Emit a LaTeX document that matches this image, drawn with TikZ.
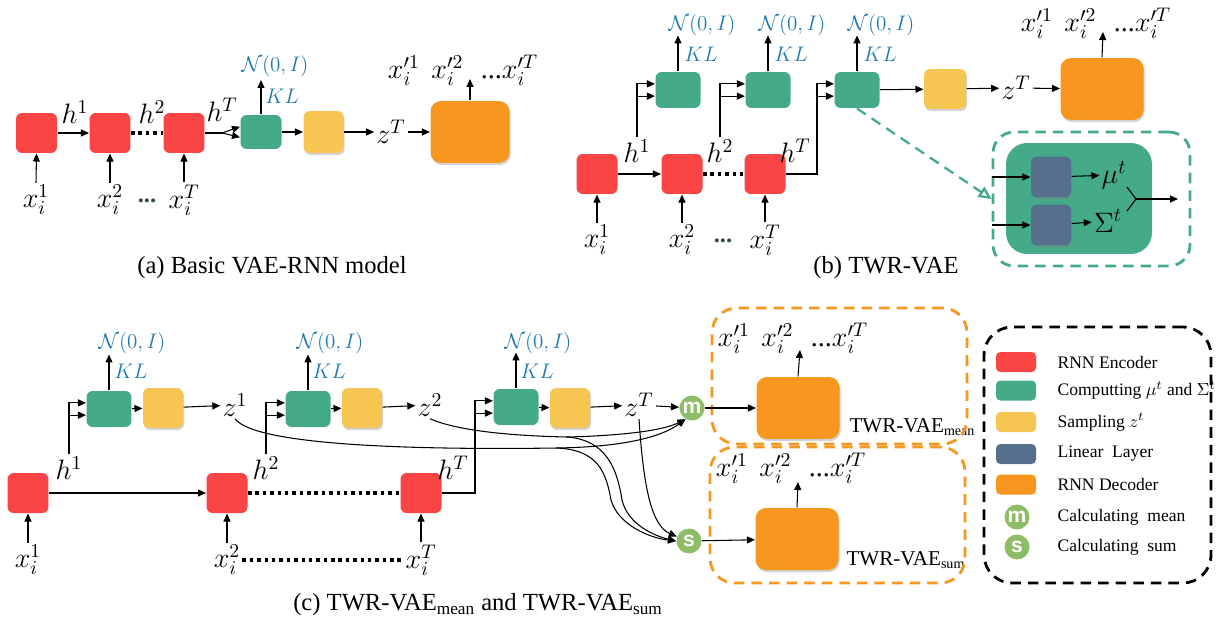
\RequirePackage{fix-cm}
\documentclass[tikz,border=0pt]{standalone}
\usepackage{fontspec}
\setmainfont{Liberation Serif}
\setsansfont{Liberation Sans}
\usetikzlibrary{arrows.meta, positioning, shadows, calc}
\definecolor{cred}{HTML}{FB4444}
\definecolor{cgreen}{HTML}{45AA8A}
\definecolor{cyellow}{HTML}{F7C552}
\definecolor{corange}{HTML}{F7971F}
\definecolor{cslate}{HTML}{556F8D}
\definecolor{ccirc}{HTML}{8DBE67}
\definecolor{cblue}{HTML}{1F78B0}
\definecolor{cdots}{HTML}{2F4A45}
\newcommand{\outseq}{$x_i^{\prime 1}\ \,x_i^{\prime 2}\hspace{10pt}\mbox{...}x_i^{\prime T}$}
\tikzset{
  every picture/.style={line width=0.6pt},
  blk/.style={draw=none, fill=#1, rounded corners=3.5pt, minimum width=0.82cm, minimum height=0.8cm, inner sep=0pt},
  enc/.style={blk=cred},
  musig/.style={blk=cgreen, minimum width=0.9cm, minimum height=0.72cm},
  samp/.style={blk=cyellow, minimum width=0.8cm, minimum height=0.8cm, drop shadow={opacity=0.35, shadow xshift=0.6pt, shadow yshift=-1.2pt}},
  dec/.style={blk=corange, rounded corners=6pt, minimum width=1.66cm, minimum height=1.24cm, drop shadow={opacity=0.35, shadow xshift=0.6pt, shadow yshift=-1.2pt}},
  lin/.style={blk=cslate, minimum width=0.8cm, minimum height=0.82cm, drop shadow={opacity=0.35, shadow xshift=0.6pt, shadow yshift=-1.2pt}},
  agg/.style={circle, fill=ccirc, minimum size=0.5cm, inner sep=0pt, text=white, font=\sffamily\bfseries\fontsize{12}{12}\selectfont},
  arrow/.style={-{Triangle[length=1.6mm, width=1.4mm]}},
  sym/.style={font=\fontsize{16}{18}\selectfont, inner sep=1pt},
  kl/.style={text=cblue, font=\fontsize{12}{14}\selectfont, inner sep=1pt},
  caption/.style={font=\rmfamily\fontsize{14}{16}\selectfont},
  dotline/.style={line width=2pt, dash pattern=on 2pt off 2.2pt},
  legtext/.style={font=\fontsize{10}{12}\selectfont, anchor=west, inner sep=0pt},
  swatch/.style={blk=#1, rounded corners=2.5pt, minimum width=0.8cm, minimum height=0.4cm},
}

\begin{document}
\begin{tikzpicture}[x=0.02cm, y=-0.02cm]
  \useasboundingbox (0,0) rectangle (1226,628);

  % (a) basic VAE-RNN
  \node[enc] (r1a) at (36.5,133) {};
  \node[enc] (r2a) at (110,133) {};
  \node[enc] (r3a) at (184,133) {};
  \node[musig, minimum width=0.82cm, minimum height=0.68cm] (ga) at (261,132) {};
  \node[samp, minimum height=0.84cm] (ya) at (323.5,132) {};
  \node[sym] (zTa) at (391,132) {$z^T$};
  \node[dec, minimum width=1.58cm] (oa) at (470,132) {};
  \node[sym] (outa) at (463,70) {\outseq};
  \coordinate (outa-in) at (470,79);
  \node[sym] (h1a) at (75,112) {$h^1$};
  \node[sym] (h2a) at (152,112) {$h^2$};
  \node[sym] (hTa) at (222,110) {$h^T$};
  \node[sym] (xa1) at (36,200) {$x_i^1$};
  \node[sym] (xa2) at (110,200) {$x_i^2$};
  \node[sym] (xa3) at (184,200) {$x_i^T$};
  \node[text=cdots, font=\bfseries\fontsize{14}{14}\selectfont] (dta) at (147,201) {...};
  \node[kl] (Na) at (275,66) {$\mathcal{N}(0,I)$};
  \node[kl] (KLa) at (282,96) {$KL$};
  \coordinate (ga-up) at (261,80);
  \coordinate (spa) at (222,133);
  \coordinate (ga-a) at ([yshift=3pt]ga.west);
  \coordinate (ga-b) at ([yshift=-3pt]ga.west);
  \foreach \i in {1,2,3} \draw[arrow] (xa\i.north) -- (r\i a.south);
  \draw[arrow] (r1a) -- (r2a);
  \draw[dotline] (r2a) -- (r3a);
  \draw (r3a.east) -- (spa);
  \draw[arrow] (spa) -- (ga-a);
  \draw[arrow] (spa) -- (ga-b);
  \draw[arrow] (ga.north) -- (ga-up);
  \draw[arrow] (ga) -- (ya);
  \draw[arrow] (ya) -- (zTa);
  \draw[arrow] (zTa) -- (oa);
  \draw[arrow] (oa.north) -- (outa-in);
  \node[caption] (capa) at (272,268) {(a) Basic VAE-RNN model};

  % (b) TWR-VAE
  \node[enc] (r1b) at (597,174) {};
  \node[enc] (r2b) at (682,174) {};
  \node[enc] (r3b) at (765,174) {};
  \node[musig] (g1b) at (678,90) {};
  \node[musig] (g2b) at (768,90) {};
  \node[musig] (g3b) at (857,90) {};
  \node[samp, minimum width=0.84cm] (yb) at (945,89) {};
  \node[sym] (zTb) at (1016,88) {$z^T$};
  \node[dec] (ob) at (1102,89) {};
  \node[sym] (outb) at (1096,23) {\outseq};
  \coordinate (outb-in) at (1103,32);
  \node[sym] (h1b) at (637,151) {$h^1$};
  \node[sym] (h2b) at (720,151) {$h^2$};
  \node[sym] (hTb) at (795,151) {$h^T$};
  \node[sym] (xb1) at (597,240) {$x_i^1$};
  \node[sym] (xb2) at (682,240) {$x_i^2$};
  \node[sym] (xb3) at (765,240) {$x_i^T$};
  \node[text=cdots, font=\bfseries\fontsize{14}{14}\selectfont] (dtb) at (723,241) {...};
  \foreach \g/\nx in {g1b/702, g2b/792, g3b/881} {
    \node[kl] (N-\g) at (\nx,25) {$\mathcal{N}(0,I)$};
    \node[kl] (KL-\g) at (\nx-1,54) {$KL$};
    \coordinate (\g-up) at ($(\g.north)+(0,-36)$);
    \draw[arrow] (\g.north) -- (\g-up);
    \coordinate (\g-a) at ([yshift=3.5pt]\g.west);
    \coordinate (\g-b) at ([yshift=-3.5pt]\g.west);
  }
  \coordinate (colb) at (817,0);
  \foreach \i in {1,2,3} \draw[arrow] (xb\i.north) -- (r\i b.south);
  \draw[arrow] (r1b) -- (r2b);
  \draw[dotline] (r2b) -- (r3b);
  \draw[arrow] (h1b.north) |- (g1b-a);
  \draw[arrow] (h1b.north |- g1b-b) -- (g1b-b);
  \draw[arrow] (h2b.north) |- (g2b-a);
  \draw[arrow] (h2b.north |- g2b-b) -- (g2b-b);
  \draw[arrow] (r3b.east) -| (colb |- g3b-b) |- (g3b-a);
  \draw[arrow] (colb |- g3b-b) -- (g3b-b);
  \draw[arrow] (g3b) -- (yb);
  \draw[arrow] (yb) -- (zTb);
  \draw[arrow] (zTb) -- (ob);
  \draw[arrow] (ob.north) -- (outb-in);
  \node[caption] (capb) at (886,268) {(b) TWR-VAE};

  % inset: computing mu and Sigma
  \node[draw=cgreen, line width=1.6pt, dash pattern=on 6pt off 4pt, rounded corners=12pt, minimum width=3.94cm, minimum height=2.68cm] (frameb) at (1091.5,199) {};
  \node[blk=cgreen, rounded corners=12pt, minimum width=2.92cm, minimum height=2.22cm] (gbig) at (1079,198.5) {};
  \node[lin] (l1) at (1051,177) {};
  \node[lin] (l2) at (1051,225) {};
  \node[sym] (mut) at (1114,175) {$\mu^t$};
  \node[sym] (sigt) at (1108,221) {$\Sigma^t$};
  \coordinate (in1) at (992,177);
  \coordinate (in2) at (992,225);
  \coordinate (mg1) at (1127,187);
  \coordinate (mg2) at (1127,211);
  \coordinate (mg) at (1136,199);
  \coordinate (mgout) at (1178,199);
  \draw[arrow] (in1) -- (l1);
  \draw[arrow] (in2) -- (l2);
  \draw[arrow] (l1) -- (mut);
  \draw[arrow] (l2) -- (sigt);
  \draw (mg1) -- (mg) -- (mg2);
  \draw[arrow] (mg) -- (mgout);
  \draw[cgreen, line width=1.3pt, dash pattern=on 6pt off 4pt, -{Triangle[length=2.6mm, width=2.4mm, open]}] (g3b.south) -- (frameb.west);

  % (c) TWR-VAE mean / sum
  \node[enc] (r1c) at (28,493) {};
  \node[enc] (r2c) at (227,493) {};
  \node[enc] (r3c) at (421,493) {};
  \node[musig] (g1c) at (109,409) {};
  \node[samp] (y1c) at (163,408) {};
  \node[sym] (z1) at (235,405) {$z^1$};
  \node[musig] (g2c) at (308,409) {};
  \node[samp] (y2c) at (362,408) {};
  \node[sym] (z2) at (430,405) {$z^2$};
  \node[musig] (g3c) at (516,407) {};
  \node[samp] (y3c) at (570,408) {};
  \node[sym] (zTc) at (639,405) {$z^T$};
  \node[agg] (mm) at (692,408) {m};
  \node[agg] (ss) at (689,541) {s};
  \node[dec] (om) at (798,408) {};
  \node[dec] (os) at (797,539) {};
  \node[sym] (outm) at (793,338) {\outseq};
  \node[sym] (outs) at (791,468) {\outseq};
  \coordinate (outm-in) at (800,350);
  \coordinate (outs-in) at (798,482);
  \node[font=\fontsize{12}{14}\selectfont, anchor=west, inner sep=0pt] (labm) at (849,427) {TWR-VAE\textsubscript{mean}};
  \node[font=\fontsize{12}{14}\selectfont, anchor=west, inner sep=0pt] (labs) at (846,560) {TWR-VAE\textsubscript{sum}};
  \node[draw=corange, line width=1.6pt, dash pattern=on 6pt off 4pt, rounded corners=14pt, minimum width=5.1cm, minimum height=2.72cm] (fm) at (839.5,376) {};
  \node[draw=corange, line width=1.6pt, dash pattern=on 6pt off 4pt, rounded corners=14pt, minimum width=5.1cm, minimum height=2.72cm] (fs) at (837.5,515) {};
  \node[sym] (h1c) at (69,468) {$h^1$};
  \node[sym] (h2c) at (266,468) {$h^2$};
  \node[sym] (hTc) at (453,468) {$h^T$};
  \node[sym] (xc1) at (28,560) {$x_i^1$};
  \node[sym] (xc2) at (227,560) {$x_i^2$};
  \node[sym] (xc3) at (421,560) {$x_i^T$};
  \foreach \g/\nx in {g1c/132, g2c/330, g3c/538} {
    \node[kl] (N-\g) at (\nx,343) {$\mathcal{N}(0,I)$};
    \node[kl] (KL-\g) at (\nx-1,371) {$KL$};
    \coordinate (\g-up) at ($(\g.north)+(0,-36)$);
    \draw[arrow] (\g.north) -- (\g-up);
    \coordinate (\g-a) at ([yshift=3.5pt]\g.west);
    \coordinate (\g-b) at ([yshift=-3.5pt]\g.west);
  }
  \coordinate (colc) at (475,0);
  \foreach \i in {1,2,3} \draw[arrow] (xc\i.north) -- (r\i c.south);
  \draw[arrow] (r1c) -- (r2c);
  \draw[dotline] (r2c) -- (r3c);
  \draw[dotline] (xc2.east) -- (xc3.west);
  \draw[arrow] (h1c.north) |- (g1c-a);
  \draw[arrow] (h1c.north |- g1c-b) -- (g1c-b);
  \draw[arrow] (h2c.north) |- (g2c-a);
  \draw[arrow] (h2c.north |- g2c-b) -- (g2c-b);
  \draw[arrow] (r3c.east) -| (colc |- g3c-b) |- (g3c-a);
  \draw[arrow] (colc |- g3c-b) -- (g3c-b);
  \foreach \k in {1,2,3} \draw[arrow] (g\k c) -- (y\k c);
  \draw[arrow] (y1c) -- (z1);
  \draw[arrow] (y2c) -- (z2);
  \draw[arrow] (y3c) -- (zTc);
  \draw[arrow] (zTc) -- (mm);
  \draw[arrow] (mm) -- (om);
  \draw[arrow] (ss) -- (os);
  \draw[arrow] (om.north) -- (outm-in);
  \draw[arrow] (os.north) -- (outs-in);
  % z^t fed to mean and sum
  \coordinate (j1) at (557,448);
  \coordinate (j2) at (567,437);
  \draw (z1.south) .. controls (255,446) and (420,450) .. (j1);
  \draw[arrow] (j1) .. controls (620,447) and (660,438) .. (mm.240);
  \draw[arrow] (j1) .. controls (598,450) and (606,472) .. (611,500) .. controls (618,525) and (650,538) .. (ss.west);
  \draw (z2.south) .. controls (460,432) and (520,436) .. (j2);
  \draw[arrow] (j2) .. controls (610,436) and (660,432) .. (mm.240);
  \draw[arrow] (j2) .. controls (606,440) and (617,468) .. (622,500) .. controls (628,525) and (655,536) .. (ss.west);
  \draw[arrow] (zTc.south) .. controls (643,480) and (650,525) .. (ss.160);
  \node[caption] (capc) at (478,605) {(c) TWR-VAE\textsubscript{mean} and TWR-VAE\textsubscript{sum}};

  % legend
  \node[draw=black, line width=1.6pt, dash pattern=on 6pt off 4pt, rounded corners=16pt, minimum width=4.54cm, minimum height=5.12cm] (legend) at (1097.5,455) {};
  \node[swatch=cred] (kenc) at (1016,362) {};
  \node[swatch=cgreen] (kmu) at (1016,390.5) {};
  \node[swatch=cyellow] (ksamp) at (1016,422) {};
  \node[swatch=cslate] (klin) at (1016,454) {};
  \node[swatch=corange] (kdec) at (1016,484.5) {};
  \node[agg] (kmean) at (1017,517) {m};
  \node[agg] (ksum) at (1017,547) {s};
  \node[legtext] at (1057,362) {RNN Encoder};
  \node[legtext] at (1057,390.5) {Computting\ $\mu^t$ and $\Sigma^t$};
  \node[legtext] at (1057,422) {Sampling $z^t$};
  \node[legtext] at (1057,454) {Linear\ \ Layer};
  \node[legtext] at (1057,484.5) {RNN Decoder};
  \node[legtext] at (1057,517) {Calculating\ \ mean};
  \node[legtext] at (1057,547) {Calculating\ \ sum};
\end{tikzpicture}
\end{document}
